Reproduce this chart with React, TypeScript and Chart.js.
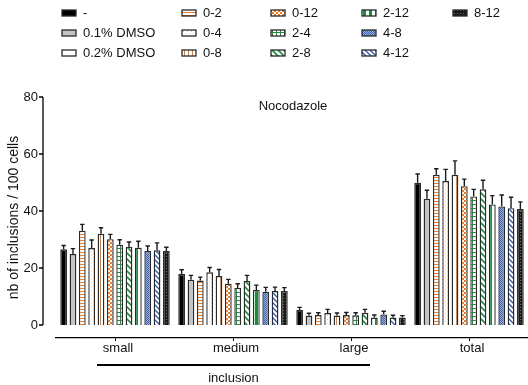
import React, { useEffect, useRef } from 'react';
import { Chart, registerables } from 'chart.js';

Chart.register(...registerables);

// ---------- data ----------
const categories = ['small', 'medium', 'large', 'total'];
const seriesNames = ['-', '0.1% DMSO', '0.2% DMSO', '0-2', '0-4', '0-8', '0-12', '2-4', '2-8', '2-12', '4-8', '4-12', '8-12'];
const yTicks = [0, 20, 40, 60, 80];
const chartTitle = 'Nocodazole';
const yTitle = 'nb of inclusions / 100 cells';
const groupTitle = 'inclusion';

const vNone = [26.6, 17.9, 5.3, 49.9];
const eNone = [1.3, 1.5, 0.9, 3.1];
const vDmso01 = [24.9, 15.9, 3.3, 44.3];
const eDmso01 = [1.9, 1.5, 0.8, 3.0];
const vDmso02 = [null, null, null, null];
const eDmso02 = [null, null, null, null];
const v0_2 = [33.1, 15.6, 3.5, 52.7];
const e0_2 = [2.2, 1.2, 0.8, 2.1];
const v0_4 = [27.0, 18.5, 4.2, 50.5];
const e0_4 = [2.8, 1.7, 1.3, 4.1];
const v0_8 = [32.0, 17.2, 3.3, 52.7];
const e0_8 = [2.1, 2.3, 0.9, 4.9];
const v0_12 = [30.1, 14.5, 3.5, 48.7];
const e0_12 = [1.7, 1.5, 0.9, 2.5];
const v2_4 = [28.2, 13.0, 3.4, 45.1];
const e2_4 = [1.7, 1.5, 0.9, 2.5];
const v2_8 = [27.4, 15.4, 4.3, 47.6];
const e2_8 = [1.7, 2.0, 1.2, 3.2];
const v2_12 = [27.1, 12.3, 2.6, 42.3];
const e2_12 = [2.3, 1.7, 0.9, 3.1];
const v4_8 = [26.0, 11.7, 3.7, 41.6];
const e4_8 = [1.7, 1.5, 1.1, 4.0];
const v4_12 = [26.2, 11.9, 2.6, 41.0];
const e4_12 = [2.6, 1.4, 0.8, 3.8];
const v8_12 = [26.0, 11.9, 2.6, 40.7];
const e8_12 = [1.3, 1.2, 0.7, 2.5];

const seriesValues = [vNone, vDmso01, vDmso02, v0_2, v0_4, v0_8, v0_12, v2_4, v2_8, v2_12, v4_8, v4_12, v8_12];
const seriesErrors = [eNone, eDmso01, eDmso02, e0_2, e0_4, e0_8, e0_12, e2_4, e2_8, e2_12, e4_8, e4_12, e8_12];

// ---------- styles ----------
const FONT = "'Liberation Sans', Arial, Helvetica, sans-serif";
const ORANGE = '#f07a24';
const GREEN = '#1f8a3e';
const BLUE = '#2c55b0';
const EDGE = '#2a2a2a';

function pat(w: number, h: number, draw: (g: CanvasRenderingContext2D) => void): CanvasPattern | string {
  const c = document.createElement('canvas');
  c.width = w;
  c.height = h;
  const g = c.getContext('2d')!;
  draw(g);
  return g.createPattern(c, 'repeat') || '#fff';
}

function makeFills(): (CanvasPattern | string)[] {
  return [
    '#000000',
    '#c4c4c4',
    '#ffffff',
    // 0-2 horizontal orange lines
    pat(3, 3, (g) => { g.fillStyle = '#fff'; g.fillRect(0, 0, 3, 3); g.fillStyle = ORANGE; g.fillRect(0, 0, 3, 1); }),
    // 0-4 faint orange dots
    pat(4, 4, (g) => { g.fillStyle = '#fff'; g.fillRect(0, 0, 4, 4); g.fillStyle = '#f6c59a'; g.fillRect(1, 1, 1, 1); g.fillRect(3, 3, 1, 1); }),
    // 0-8 vertical orange lines
    pat(4, 4, (g) => { g.fillStyle = '#fff'; g.fillRect(0, 0, 4, 4); g.fillStyle = ORANGE; g.fillRect(0, 0, 1, 4); }),
    // 0-12 orange checker
    pat(4, 4, (g) => { g.fillStyle = '#fff'; g.fillRect(0, 0, 4, 4); g.fillStyle = ORANGE; g.fillRect(0, 0, 2, 2); g.fillRect(2, 2, 2, 2); }),
    // 2-4 green grid
    pat(4, 4, (g) => { g.fillStyle = '#fff'; g.fillRect(0, 0, 4, 4); g.fillStyle = GREEN; g.fillRect(0, 0, 4, 1); g.fillRect(0, 0, 1, 4); }),
    // 2-8 green diagonal
    pat(6, 6, (g) => {
      g.fillStyle = '#fff'; g.fillRect(0, 0, 6, 6);
      g.strokeStyle = GREEN; g.lineWidth = 1.6;
      g.beginPath(); g.moveTo(-1, -1); g.lineTo(7, 7); g.moveTo(-4, 2); g.lineTo(4, 10); g.moveTo(2, -4); g.lineTo(10, 4); g.stroke();
    }),
    // 2-12 green vertical band
    pat(6, 6, (g) => { g.fillStyle = '#fff'; g.fillRect(0, 0, 6, 6); g.fillStyle = GREEN; g.fillRect(3, 0, 3, 6); }),
    // 4-8 blue checker
    pat(2, 2, (g) => { g.fillStyle = '#9db3e0'; g.fillRect(0, 0, 2, 2); g.fillStyle = '#3b5fae'; g.fillRect(0, 0, 1, 1); g.fillRect(1, 1, 1, 1); }),
    // 4-12 blue diagonal
    pat(5, 5, (g) => {
      g.fillStyle = '#fff'; g.fillRect(0, 0, 5, 5);
      g.strokeStyle = BLUE; g.lineWidth = 1.3;
      g.beginPath(); g.moveTo(-1, -1); g.lineTo(6, 6); g.moveTo(-4, 1); g.lineTo(4, 9); g.moveTo(1, -4); g.lineTo(9, 4); g.stroke();
    }),
    // 8-12 dark dotted
    pat(3, 3, (g) => { g.fillStyle = '#1a1a1a'; g.fillRect(0, 0, 3, 3); g.fillStyle = '#6e6e6e'; g.fillRect(1, 1, 1, 1); }),
  ];
}

// ---------- plugins ----------
const errorBars = {
  id: 'errorBars',
  afterDatasetsDraw(chart: any) {
    const ctx = chart.ctx;
    const y = chart.scales.y;
    ctx.save();
    ctx.strokeStyle = '#1a1a1a';
    ctx.lineWidth = 1.4;
    chart.data.datasets.forEach((ds: any, i: number) => {
      const meta = chart.getDatasetMeta(i);
      if (meta.hidden) return;
      meta.data.forEach((bar: any, j: number) => {
        const v = ds.data[j];
        const e = ds.errors ? ds.errors[j] : null;
        if (v == null || e == null || !isFinite(bar.x)) return;
        const yv = y.getPixelForValue(v);
        const yt = y.getPixelForValue(v + e);
        ctx.beginPath();
        ctx.moveTo(bar.x, yv);
        ctx.lineTo(bar.x, yt);
        ctx.moveTo(bar.x - 2.2, yt);
        ctx.lineTo(bar.x + 2.2, yt);
        ctx.stroke();
      });
    });
    ctx.restore();
  },
};

const decorations = {
  id: 'decorations',
  afterDraw(chart: any) {
    const ctx = chart.ctx;
    const { chartArea } = chart;
    const y = chart.scales.y;
    const x = chart.scales.x;
    ctx.save();
    // y axis line and ticks (detached from plot)
    const ax = chartArea.left - 13;
    ctx.strokeStyle = '#000';
    ctx.lineWidth = 1.3;
    ctx.beginPath();
    ctx.moveTo(ax, y.getPixelForValue(yTicks[yTicks.length - 1]));
    ctx.lineTo(ax, y.getPixelForValue(yTicks[0]));
    yTicks.forEach((t) => {
      const py = y.getPixelForValue(t);
      ctx.moveTo(ax - 4, py);
      ctx.lineTo(ax, py);
    });
    ctx.stroke();

    // chart title inside plot
    ctx.fillStyle = '#111';
    ctx.font = `13px ${FONT}`;
    ctx.textAlign = 'center';
    ctx.textBaseline = 'middle';
    ctx.fillText(chartTitle, (chartArea.left + chartArea.right) / 2 + 1, chartArea.top + 9);

    // group bracket "inclusion"
    const x0 = x.getPixelForValue(0) - 18;
    const x1 = x.getPixelForValue(2) + 19;
    ctx.lineWidth = 2.2;
    ctx.beginPath();
    ctx.moveTo(x0, 365);
    ctx.lineTo(x1, 365);
    ctx.stroke();
    ctx.fillText(groupTitle, (x0 + x1) / 2, 378);

    // legend (column-major, 3 rows)
    const colX = [62, 182, 271, 362, 453];
    const rowY = [13, 33, 53];
    chart.data.datasets.forEach((ds: any, i: number) => {
      const cx = colX[Math.floor(i / 3)];
      const cy = rowY[i % 3];
      ctx.fillStyle = ds.backgroundColor;
      ctx.fillRect(cx, cy - 3, 14, 6);
      ctx.strokeStyle = EDGE;
      ctx.lineWidth = 1.3;
      ctx.strokeRect(cx, cy - 3, 14, 6);
      ctx.fillStyle = '#111';
      ctx.textAlign = 'left';
      ctx.fillText(ds.label, cx + 21, cy + 0.5);
    });
    ctx.restore();
  },
};

export default function App() {
  const ref = useRef<HTMLCanvasElement>(null);
  useEffect(() => {
    if (!ref.current) return;
    Chart.defaults.font.family = FONT;
    Chart.defaults.color = '#111';
    const fills = makeFills();
    const datasets = seriesNames.map((name, i) => ({
      label: name,
      data: seriesValues[i],
      errors: seriesErrors[i],
      backgroundColor: fills[i],
      borderColor: EDGE,
      borderWidth: 1.4,
      skipNull: true,
      categoryPercentage: 0.95,
      barPercentage: 0.72,
    }));
    const chart = new Chart(ref.current, {
      type: 'bar',
      data: { labels: categories, datasets: datasets as any },
      options: {
        animation: false,
        responsive: false,
        layout: { padding: { top: 97, right: 0, left: 0, bottom: 0 } },
        plugins: { legend: { display: false }, tooltip: { enabled: false }, title: { display: false } },
        scales: {
          x: {
            grid: { display: true, drawOnChartArea: false, drawTicks: true, tickLength: 3, offset: false, color: '#000', lineWidth: 1 },
            border: { display: true, color: '#000', width: 1.3 },
            ticks: { font: { size: 13 }, padding: 0, labelOffset: 3, color: '#111' },
            afterFit: (s: any) => { s.height = 47; },
          },
          y: {
            min: -4.56,
            max: 80,
            grid: { display: false, drawTicks: false },
            border: { display: false },
            ticks: { font: { size: 13 }, padding: 18, color: '#111' },
            afterBuildTicks: (s: any) => { s.ticks = yTicks.map((v) => ({ value: v })); },
            title: { display: true, text: yTitle, font: { size: 14 }, padding: { top: 6, bottom: 0 }, color: '#111' },
            afterFit: (s: any) => { s.width = 56; },
          },
        },
      } as any,
      plugins: [errorBars, decorations],
    });
    return () => chart.destroy();
  }, []);
  return (
    <div style={{ position: 'absolute', left: 0, top: 0, width: 528, height: 385 }}>
      <canvas ref={ref} width={528} height={385} style={{ display: 'block' }} />
    </div>
  );
}
